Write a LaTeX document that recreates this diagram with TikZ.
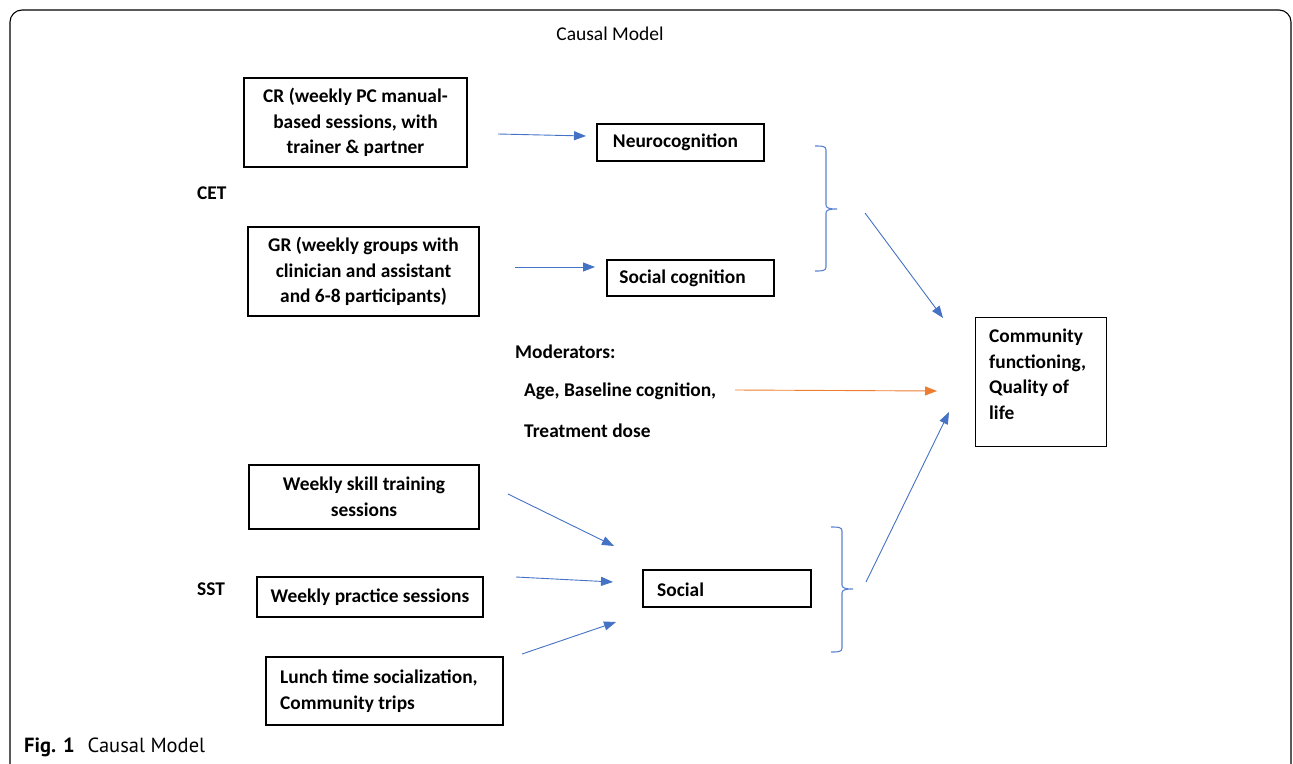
\documentclass[tikz,border=0pt]{standalone}
\usepackage{fontspec}
\setmainfont{Carlito}
\newfontfamily\capfont{PT Sans}
\usetikzlibrary{arrows.meta}
\definecolor{arrblue}{RGB}{68,114,196}
\definecolor{arrorange}{RGB}{237,125,49}
\definecolor{brblue}{RGB}{90,130,210}
\tikzset{
  boxn/.style={draw=black, line width=1.2pt, inner sep=0pt, font=\fontsize{19.4}{25.5}\selectfont\bfseries, align=center},
  lbl/.style={inner sep=0pt, font=\fontsize{19.4}{25.5}\selectfont\bfseries, anchor=west},
  conn/.style={draw=arrblue, line width=0.9pt, -{Triangle[length=12pt,width=9pt]}},
  oconn/.style={draw=arrorange, line width=0.9pt, -{Triangle[length=12pt,width=9pt]}},
  bracep/.style={draw=brblue, line width=1.1pt}
}
\begin{document}
\begin{tikzpicture}[x=1pt,y=-1pt]
\useasboundingbox (0,0) rectangle (1293,763);
% frame
\draw[line width=1.1pt, rounded corners=12pt] (10,790) -- (10,10) -- (1291,10) -- (1291,790);
\node[inner sep=0pt, font=\fontsize{19.5}{22}\selectfont] (title) at (610,34) {Causal Model};
% boxes
\node[boxn, minimum width=223pt, minimum height=89pt] (cr) at (355.5,122.5) {\raisebox{-4.5pt}{\parbox{220pt}{\centering CR (weekly PC manual-\\based sessions, with\\trainer \& partner}}};
\node[boxn, minimum width=167pt, minimum height=37pt] (neuro) at (680.5,142.5) {\hspace*{-10pt}\raisebox{-2.5pt}{Neurocognition}};
\node[lbl] (cet) at (197,193) {CET};
\node[boxn, minimum width=231pt, minimum height=89pt] (gr) at (363.5,271.5) {\raisebox{-3pt}{\parbox{228pt}{\centering GR (weekly groups with\\clinician and assistant\\and 6-8 participants)}}};
\node[boxn, minimum width=167pt, minimum height=36pt] (soccog) at (690.5,278) {\hspace*{-16pt}\raisebox{-2pt}{Social cognition}};
\node[boxn, minimum width=131pt, minimum height=129pt, align=left, anchor=north west] (comm) at (975,317) {};
\node[inner sep=0pt, font=\fontsize{19.4}{25.5}\selectfont\bfseries, align=left, anchor=north west] (commtxt) at (989,329) {Community\\functioning,\\Quality of\\life};
\node[lbl] (mod) at (515,352) {Moderators:};
\node[lbl] (age) at (524,391) {Age, Baseline cognition,};
\node[lbl] (dose) at (524,431) {Treatment dose};
\node[boxn, minimum width=230pt, minimum height=64pt] (skill) at (364,497) {\raisebox{-2pt}{\parbox{228pt}{\centering Weekly skill training\\sessions}}};
\node[lbl] (sst) at (197,589) {SST};
\node[boxn, minimum width=226pt, minimum height=40pt] (prac) at (370,597) {Weekly practice sessions};
\node[boxn, minimum width=237pt, minimum height=68pt] (lunch) at (384.5,691) {};
\node[inner sep=0pt, font=\fontsize{19.4}{25.5}\selectfont\bfseries, align=left, anchor=west] (lunchtxt) at (280,691) {Lunch time socialization,\\Community trips};
\node[boxn, minimum width=168pt, minimum height=37pt] (social) at (727,588.5) {};
\node[lbl] (socialtxt) at (657,590) {Social};
% connector end points
\coordinate (a1s) at (498,134); \coordinate (a1e) at (586,136);
\coordinate (a2s) at (515,267); \coordinate (a2e) at (595,267);
\coordinate (a3s) at (865,213); \coordinate (a3e) at (943,318);
\coordinate (a4s) at (735,390); \coordinate (a4e) at (937,391);
\coordinate (a5s) at (508,494); \coordinate (a5e) at (614,546);
\coordinate (a6s) at (516,577); \coordinate (a6e) at (613,582);
\coordinate (a7s) at (522,654); \coordinate (a7e) at (616,622);
\coordinate (a8s) at (866,582); \coordinate (a8e) at (949,412);
\draw[conn] (a1s) -- (a1e);
\draw[conn] (a2s) -- (a2e);
\draw[conn] (a3s) -- (a3e);
\draw[oconn] (a4s) -- (a4e);
\draw[conn] (a5s) -- (a5e);
\draw[conn] (a6s) -- (a6e);
\draw[conn] (a7s) -- (a7e);
\draw[conn] (a8s) -- (a8e);
% braces
\draw[bracep] (815,146) .. controls (822,146) and (826,146) .. (826,150) -- (826,205)
  .. controls (826,208) and (829,209) .. (837,209)
  .. controls (829,209) and (826,210) .. (826,213) -- (826,267)
  .. controls (826,271) and (822,271) .. (815,271);
\draw[bracep] (831,527) .. controls (838,527) and (842,527) .. (842,531) -- (842,585)
  .. controls (842,588) and (845,589) .. (853,589)
  .. controls (845,589) and (842,590) .. (842,593) -- (842,648)
  .. controls (842,652) and (838,652) .. (831,652);
% caption
\node[inner sep=0pt, anchor=west, font=\fontsize{20.5}{24}\selectfont\capfont] (cap) at (24,747) {\textbf{Fig. 1}\hspace{13pt}Causal Model};
\end{tikzpicture}
\end{document}
